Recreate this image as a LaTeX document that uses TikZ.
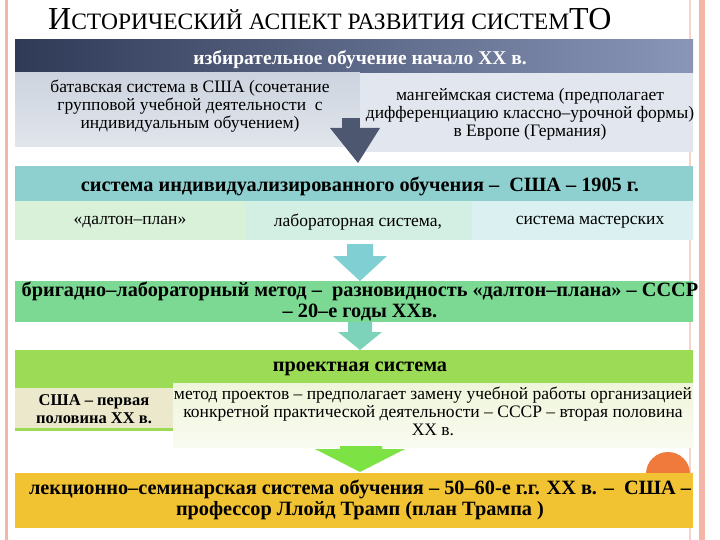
\documentclass[tikz,border=0pt]{standalone}
\usepackage{fontspec}
\setmainfont{Liberation Serif}
\begin{document}
\begin{tikzpicture}[x=1pt,y=-1pt,
  txt/.style={align=center,inner sep=0pt,font=\fontsize{17.5}{18}\selectfont},
  btxt/.style={align=center,inner sep=0pt,font=\bfseries\fontsize{20.3}{21}\selectfont}]
\definecolor{navyA}{HTML}{2F3A57}\definecolor{navyB}{HTML}{8A96B8}
\definecolor{boxL}{HTML}{CDD4DF}\definecolor{boxR}{HTML}{E2E6EE}
\definecolor{tealband}{HTML}{8ED0CF}\definecolor{tealarr}{HTML}{7FCFD3}
\definecolor{gA}{HTML}{D9F1D9}\definecolor{gB}{HTML}{D3EEE2}\definecolor{gC}{HTML}{DAF0F1}
\definecolor{greenband}{HTML}{7BD994}\definecolor{limeband}{HTML}{9CDB55}
\definecolor{beige}{HTML}{ECE8CC}\definecolor{limelight}{HTML}{EFF5DA}
\definecolor{yel}{HTML}{F1C232}\definecolor{org}{HTML}{F07A3C}\definecolor{salmon}{HTML}{F3B6A6}
\useasboundingbox (0,0) rectangle (720,540);
\fill[white] (0,0) rectangle (720,540);
\fill[salmon] (5,0) rectangle (8,540);
\fill[salmon!60] (689,0) rectangle (691,540);
\fill[salmon] (699,0) rectangle (705,540);
\node[inner sep=0pt,anchor=base west] (title) at (48,30) {\fontsize{32}{34}\selectfont И\fontsize{23.5}{26}\selectfont СТОРИЧЕСКИЙ АСПЕКТ РАЗВИТИЯ СИСТЕМ\fontsize{32}{34}\selectfont ТО};
% header
\shade[left color=navyA,right color=navyB] (15,40) rectangle (693,73);
\node[txt,text=white,font=\bfseries\fontsize{19.5}{20}\selectfont] (h) at (360,60) {избирательное обучение начало XX в.};
\shade[top color=boxL,bottom color=boxL!60] (15,73) rectangle (360,147);
\fill[boxR] (360,73) rectangle (693,152);
\node[txt] (bl) at (190,106) {батавская система в США (сочетание\\групповой учебной деятельности\ \ с\\индивидуальным обучением)};
\node[txt] (br) at (530,114) {мангеймская система (предполагает\\дифференциацию классно–урочной формы)\\в Европе (Германия)};
\fill[navyA!85] (342,118) rectangle (360,128);
\fill[navyA!85] (330,128) -- (380,128) -- (358,163) -- cycle;
% teal
\fill[tealband] (15,166) rectangle (693,201);
\node[btxt] (ind) at (360,186) {система индивидуализированного обучения –\ \ США – 1905 г.};
\fill[gA] (15,201) rectangle (245,240);
\fill[gB] (245,201) rectangle (472,240);
\fill[gC] (472,201) rectangle (693,240);
\node[txt] (d1) at (130,222) {«далтон–план»};
\node[txt] (d2) at (358,222) {лабораторная система,};
\node[txt] (d3) at (590,222) {система мастерских};
\fill[tealarr] (347,244) rectangle (373,256) (333,256) -- (387,256) -- (360,281) -- cycle;
% green
\fill[greenband] (15,281) rectangle (693,322);
\node[btxt] (br2) at (360,301) {бригадно–лабораторный метод –\ \ разновидность «далтон–плана» – СССР\\– 20–е годы XXв.};
\fill[tealarr!60!greenband] (348,322) rectangle (372,332) (338,332) -- (382,332) -- (360,350) -- cycle;
% lime
\fill[limeband] (15,350) rectangle (693,388);
\node[btxt] (pr) at (360,369) {проектная система};
\fill[beige] (15,388) rectangle (173,430);
\fill[limeband] (15,428) rectangle (173,431);
\shade[top color=limelight,bottom color=limelight!40] (173,383) rectangle (693,447);
\node[txt,font=\bfseries\fontsize{16.5}{18}\selectfont] (us) at (94,409) {США – первая\\половина XX в.};
\node[txt] (mp) at (433,411) {метод проектов – предполагает замену учебной работы организацией\\конкретной практической деятельности – СССР – вторая половина\\XX в.};
\fill[limeband!80!green] (340,446) rectangle (382,449) (315,449) -- (405,449) -- (360,472) -- cycle;
% orange
\fill[org] (668,474) circle (22);
% yellow
\fill[yel] (15,473) rectangle (693,528);
\node[btxt] (lk) at (360,500) {лекционно–семинарская система обучения – 50–60-е г.г. XX в. –\ \ США –\\профессор Ллойд Трамп (план Трампа )};
\end{tikzpicture}
\end{document}
